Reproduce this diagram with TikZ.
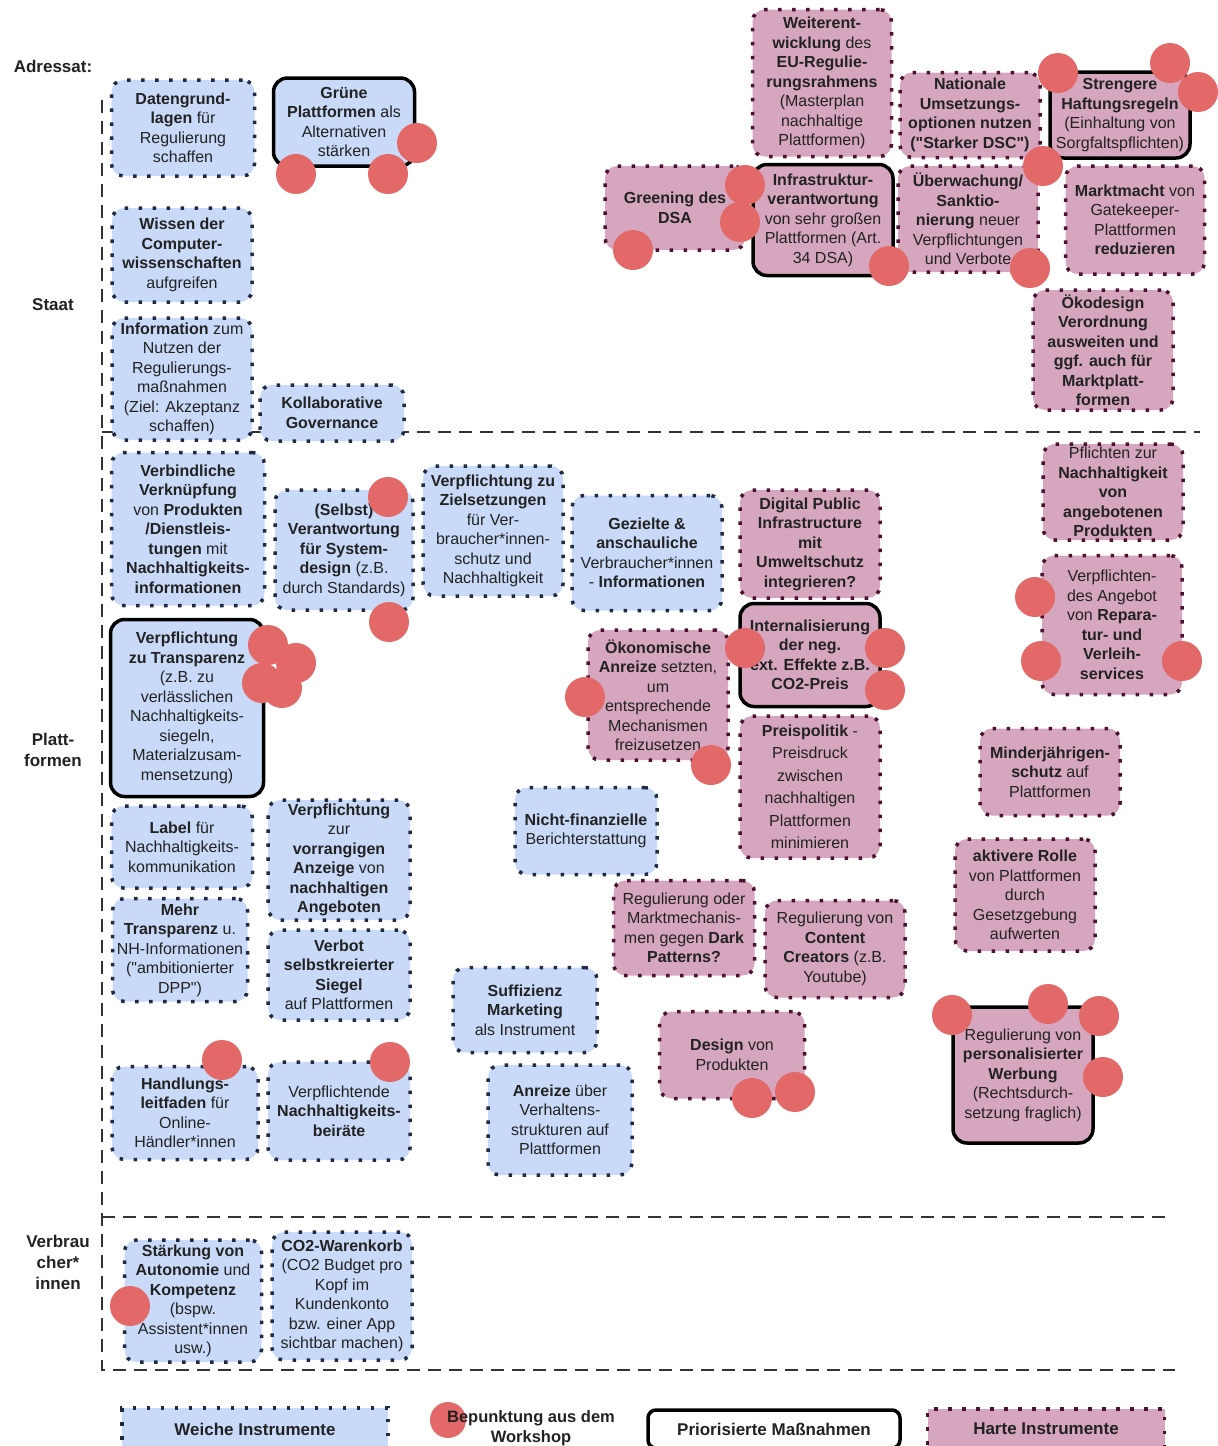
\documentclass[tikz,border=0pt]{standalone}
\usepackage{fontspec}
\setmainfont{Liberation Sans}
\usepackage{tikz}
\definecolor{weichfill}{HTML}{C9DAF8}
\definecolor{weichrand}{HTML}{1F2A44}
\definecolor{hartfill}{HTML}{D5A6BD}
\definecolor{hartrand}{HTML}{4C1130}
\definecolor{punktrot}{HTML}{E36868}
\definecolor{trennergrau}{HTML}{333333}
\definecolor{schrift}{HTML}{222222}
\newcommand{\boxfont}{\fontsize{16}{19.5}\selectfont}
\newcommand{\gq}{\textquotedbl}
\tikzstyle{weich}=[
	rectangle,
	rounded corners=12pt,
	fill=weichfill,
	draw=weichrand,
	line width=3.5pt,
	dash pattern=on 3.5pt off 10.5pt,
	text=schrift,
	align=center,
	font=\boxfont,
	inner sep=1pt
]
\tikzstyle{hart}=[
	rectangle,
	rounded corners=12pt,
	fill=hartfill,
	draw=hartrand,
	line width=3.5pt,
	dash pattern=on 3.5pt off 10.5pt,
	text=schrift,
	align=center,
	font=\boxfont,
	inner sep=1pt
]
\tikzstyle{prio}=[
	draw=black,
	solid,
	line width=3.5pt,
	rounded corners=14pt
]
\tikzstyle{punkt}=[fill=punktrot]
\tikzstyle{trenner}=[
	draw=trennergrau,
	line width=2.5pt,
	dash pattern=on 13pt off 8pt
]
\tikzstyle{adressat}=[
	font=\fontsize{17}{21}\selectfont\bfseries,
	text=schrift,
	align=center
]

\begin{document}
\begin{tikzpicture}[x=1pt,y=-1pt]
\useasboundingbox (0,0) rectangle (1218,1446);

% Trennlinien
\draw[trenner] (102,100) -- (102,1370) -- (1175,1370);
\draw[trenner] (102,432) -- (1200,432);
\draw[trenner] (102,1217) -- (1165,1217);

% Adressaten
\node[adressat] (lblAdressat) at (53,66){Adressat:};
\node[adressat] (lblStaat) at (53,305){Staat};
\node[adressat] (lblPlattformen) at (53,750){Platt-\\formen};
\node[adressat] (lblVerbraucher) at (58,1262){Verbrau\\cher*\\innen};

% Staat: weiche Instrumente
\node[weich, minimum width=143, minimum height=96] (daten) at (183,128){\textbf{Datengrund-}\\\textbf{lagen} für\\Regulierung\\schaffen};
\node[weich, prio, minimum width=141, minimum height=88] (gruene) at (344,122){\textbf{Grüne}\\\textbf{Plattformen} als\\Alternativen\\stärken};
\node[weich, minimum width=140, minimum height=94] (wissen) at (182,255){\textbf{Wissen der}\\\textbf{Computer-}\\\textbf{wissenschaften}\\aufgreifen};
\node[weich, minimum width=140, minimum height=122] (information) at (182,379){\textbf{Information} zum\\Nutzen der\\Regulierungs-\\maßnahmen\\(Ziel: Akzeptanz\\schaffen)};
\node[weich, minimum width=144, minimum height=56] (kollaborativ) at (332,413){\textbf{Kollaborative}\\\textbf{Governance}};

% Staat: harte Instrumente
\node[hart, minimum width=139, minimum height=147] (weiterentw) at (822,83){\textbf{Weiterent-}\\\textbf{wicklung} des\\\textbf{EU-Regulie-}\\\textbf{rungsrahmens}\\(Masterplan\\nachhaltige\\Plattformen)};
\node[hart, minimum width=140, minimum height=85] (national) at (970,115){\textbf{Nationale}\\\textbf{Umsetzungs-}\\\textbf{optionen nutzen}\\\textbf{(\gq Starker DSC\gq)}};
\node[hart, prio, minimum width=140, minimum height=86] (haftung) at (1120,115){\textbf{Strengere}\\\textbf{Haftungsregeln}\\(Einhaltung von\\Sorgfaltspflichten)};
\node[hart, minimum width=140, minimum height=84] (greening) at (675,208){\textbf{Greening des}\\\textbf{DSA}};
\node[hart, prio, minimum width=140, minimum height=111] (infra) at (823,220){\textbf{Infrastruktur-}\\\textbf{verantwortung}\\von sehr großen\\Plattformen (Art.\\34 DSA)};
\node[hart, minimum width=140, minimum height=106] (ueberwachung) at (968,219){\textbf{Überwachung/}\\\textbf{Sanktio-}\\\textbf{nierung} neuer\\Verpflichtungen\\und Verbote};
\node[hart, minimum width=139, minimum height=108] (marktmacht) at (1135,220){\textbf{Marktmacht} von\\Gatekeeper-\\Plattformen\\\textbf{reduzieren}};
\node[hart, minimum width=140, minimum height=120] (oekodesign) at (1103,350){\textbf{Ökodesign}\\\textbf{Verordnung}\\\textbf{ausweiten und}\\\textbf{ggf. auch für}\\\textbf{Marktplatt-}\\\textbf{formen}};

% Plattformen: weiche Instrumente
\node[weich, minimum width=153, minimum height=153] (verknuepfung) at (188,529){\textbf{Verbindliche}\\\textbf{Verknüpfung}\\von \textbf{Produkten}\\\textbf{/Dienstleis-}\\\textbf{tungen} mit\\\textbf{Nachhaltigkeits-}\\\textbf{informationen}};
\node[weich, minimum width=138, minimum height=120] (selbst) at (344,550){\textbf{(Selbst)}\\\textbf{Verantwortung}\\\textbf{für System-}\\\textbf{design} (z.B.\\durch Standards)};
\node[weich, minimum width=140, minimum height=130] (ziele) at (493,531){\textbf{Verpflichtung zu}\\\textbf{Zielsetzungen}\\für Ver-\\braucher*innen-\\schutz und\\Nachhaltigkeit};
\node[weich, minimum width=150, minimum height=115] (gezielt) at (647,553){\textbf{Gezielte \&}\\\textbf{anschauliche}\\Verbraucher*innen\\- \textbf{Informationen}};
\node[weich, prio, minimum width=153, minimum height=177] (transparenz) at (187,708){\textbf{Verpflichtung}\\\textbf{zu Transparenz}\\(z.B. zu\\verlässlichen\\Nachhaltigkeits-\\siegeln,\\Materialzusam-\\mensetzung)};
\node[weich, minimum width=142, minimum height=87] (nichtfin) at (586,831){\textbf{Nicht-finanzielle}\\Berichterstattung};
\node[weich, minimum width=141, minimum height=82] (label) at (182,847){\textbf{Label} für\\Nachhaltigkeits-\\kommunikation};
\node[weich, minimum width=142, minimum height=120] (vorrangig) at (339,860){\textbf{Verpflichtung}\\zur\\\textbf{vorrangigen}\\\textbf{Anzeige} von\\\textbf{nachhaltigen}\\\textbf{Angeboten}};
\node[weich, minimum width=135, minimum height=103] (mehrtransp) at (180,950){\textbf{Mehr}\\\textbf{Transparenz} u.\\NH-Informationen\\(\gq ambitionierter\\DPP\gq)};
\node[weich, minimum width=142, minimum height=90] (verbot) at (339,975){\textbf{Verbot}\\\textbf{selbstkreierter}\\\textbf{Siegel}\\auf Plattformen};
\node[weich, minimum width=144, minimum height=85] (suffizienz) at (525,1010){\textbf{Suffizienz}\\\textbf{Marketing}\\als Instrument};
\node[weich, minimum width=146, minimum height=93] (leitfaden) at (185,1113){\textbf{Handlungs-}\\\textbf{leitfaden} für\\Online-\\Händler*innen};
\node[weich, minimum width=142, minimum height=98] (beiraete) at (339,1111){Verpflichtende\\\textbf{Nachhaltigkeits-}\\\textbf{beiräte}};
\node[weich, minimum width=144, minimum height=110] (anreizeverh) at (560,1120){\textbf{Anreize} über\\Verhaltens-\\strukturen auf\\Plattformen};

% Plattformen: harte Instrumente
\node[hart, minimum width=140, minimum height=108] (dpi) at (810,544){\textbf{Digital Public}\\\textbf{Infrastructure}\\\textbf{mit}\\\textbf{Umweltschutz}\\\textbf{integrieren?}};
\node[hart, minimum width=140, minimum height=96] (pflichten) at (1113,492){Pflichten zur\\\textbf{Nachhaltigkeit}\\\textbf{von}\\\textbf{angebotenen}\\\textbf{Produkten}};
\node[hart, minimum width=140, minimum height=139] (reparatur) at (1112,625){Verpflichten-\\des Angebot\\von \textbf{Repara-}\\\textbf{tur- und}\\\textbf{Verleih-}\\\textbf{services}};
\node[hart, minimum width=140, minimum height=130] (oekonom) at (658,695){\textbf{Ökonomische}\\\textbf{Anreize} setzten,\\um\\entsprechende\\Mechanismen\\freizusetzen};
\node[hart, prio, minimum width=140, minimum height=103] (internal) at (810,655){\textbf{Internalisierung}\\\textbf{der neg.}\\\textbf{ext. Effekte z.B.}\\\textbf{CO2-Preis}};
\node[hart, minimum width=140, minimum height=142, font=\fontsize{16}{22.5}\selectfont] (preis) at (810,787){\textbf{Preispolitik} -\\Preisdruck\\zwischen\\nachhaltigen\\Plattformen\\minimieren};
\node[hart, minimum width=140, minimum height=87] (minderj) at (1050,772){\textbf{Minderjährigen-}\\\textbf{schutz} auf\\Plattformen};
\node[hart, minimum width=140, minimum height=112] (rolle) at (1025,895){\textbf{aktivere Rolle}\\von Plattformen\\durch\\Gesetzgebung\\aufwerten};
\node[hart, minimum width=141, minimum height=95] (darkpat) at (684,928){Regulierung oder\\Marktmechanis-\\men gegen \textbf{Dark}\\\textbf{Patterns?}};
\node[hart, minimum width=140, minimum height=97] (creators) at (835,949){Regulierung von\\\textbf{Content}\\\textbf{Creators} (z.B.\\Youtube)};
\node[hart, minimum width=145, minimum height=87] (design) at (732,1055){\textbf{Design} von\\Produkten};
\node[hart, prio, minimum width=140, minimum height=136] (werbung) at (1023,1075){Regulierung von\\\textbf{personalisierter}\\\textbf{Werbung}\\(Rechtsdurch-\\setzung fraglich)};

% Verbraucher*innen
\node[weich, minimum width=137, minimum height=122] (autonomie) at (193,1301){\textbf{Stärkung von}\\\textbf{Autonomie} und\\\textbf{Kompetenz}\\(bspw.\\Assistent*innen\\usw.)};
\node[weich, minimum width=140, minimum height=128] (warenkorb) at (342,1296){\textbf{CO2-Warenkorb}\\(CO2 Budget pro\\Kopf im\\Kundenkonto\\bzw. einer App\\sichtbar machen)};

% Bepunktung
\foreach \x/\y in {296/174, 388/174, 417/143, 1058/73, 1170/63, 1198/92,
	745/185, 740/222, 633/250, 889/266, 1043/166, 1030/268,
	388/497, 389/622, 268/645, 296/663, 262/683, 282/688,
	1035/597, 1041/661, 1182/661, 585/697, 711/765,
	745/648, 885/648, 885/690, 752/1098, 795/1092,
	952/1015, 1048/1004, 1099/1016, 1103/1077,
	222/1060, 390/1062, 130/1306}
	\fill[punkt] (\x,\y) circle (20pt);

% Legende
\node[weich, sharp corners, minimum width=266, minimum height=42, font=\fontsize{17}{21}\selectfont\bfseries] (lgWeich) at (255,1429){Weiche Instrumente};
\fill[punkt] (448,1420) circle (18pt);
\node[adressat, font=\fontsize{16.5}{20}\selectfont\bfseries] (lgPunkt) at (531,1428){Bepunktung aus dem\\Workshop};
\node[prio, fill=white, minimum width=252, minimum height=38, rounded corners=8pt, text=schrift, font=\fontsize{17}{21}\selectfont\bfseries] (lgPrio) at (774,1429){Priorisierte Maßnahmen};
\node[hart, sharp corners, minimum width=237, minimum height=40, font=\fontsize{17}{21}\selectfont\bfseries] (lgHart) at (1046,1429){Harte Instrumente};

\end{tikzpicture}
\end{document}
